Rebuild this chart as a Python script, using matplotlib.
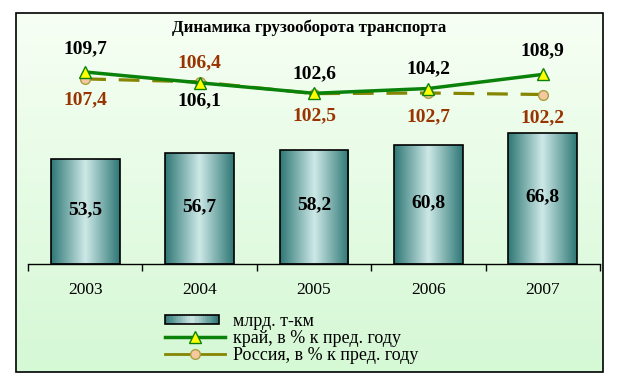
import numpy as np
import matplotlib.pyplot as plt
from matplotlib.patches import Rectangle, Patch
from matplotlib.lines import Line2D
from matplotlib.colors import LinearSegmentedColormap
from matplotlib.legend_handler import HandlerBase

# данные
years = ['2003', '2004', '2005', '2006', '2007']
volume = [53.5, 56.7, 58.2, 60.8, 66.8]            # млрд. т-км
krai = [109.7, 106.1, 102.6, 104.2, 108.9]          # край, % к пред. году
russia = [107.4, 106.4, 102.5, 102.7, 102.2]        # Россия, % к пред. году

serif = ['Liberation Serif', 'DejaVu Serif']
plt.rcParams['font.family'] = serif

W, H = 617, 384
fig = plt.figure(figsize=(W / 100, H / 100), dpi=100)

# фон рамки с градиентом
bg = fig.add_axes([0, 0, 1, 1], zorder=-10)
bg.set_xlim(0, W)
bg.set_ylim(H, 0)
bg.axis('off')
grad = np.linspace(0, 1, 256).reshape(-1, 1)
bg_cmap = LinearSegmentedColormap.from_list('bg', ['#f7fff4', '#d5f8d5'])
bg.imshow(grad, cmap=bg_cmap, extent=[16, 603, 372, 13], aspect='auto')
bg.add_patch(Rectangle((16, 13), 587, 359, fill=False, ec='black', lw=1.2))

# основная ось
ax = fig.add_axes([28 / W, 1 - 264 / H, 572 / W, 234 / H])
ax.patch.set_alpha(0)
x = np.arange(len(years))
bars = ax.bar(x, volume, width=0.6, color='none', edgecolor='black', lw=1.2, zorder=3)
ax.set_xlim(-0.5, len(years) - 0.5)
ax.set_ylim(0, 119.7)

bar_cmap = LinearSegmentedColormap.from_list(
    'bar', [(0, '#2e7775'), (0.5, '#cde9e7'), (1, '#2e7775')])
hgrad = np.linspace(0, 1, 256).reshape(1, -1)
for b, v in zip(bars, volume):
    x0, w = b.get_x(), b.get_width()
    im = ax.imshow(hgrad, cmap=bar_cmap, extent=[x0, x0 + w, 0, v],
                   aspect='auto', zorder=2)
    im.set_clip_path(b)
    ax.text(x0 + w / 2, v / 2 + 1, f'{v:.1f}'.replace('.', ','), ha='center',
            va='center', fontsize=14, fontweight='bold', zorder=4)

for s in ['top', 'right', 'left']:
    ax.spines[s].set_visible(False)
ax.spines['bottom'].set_linewidth(1)
ax.set_yticks([])
ax.set_xticks(np.arange(-0.5, len(years), 1))
ax.set_xticklabels([])
ax.tick_params(axis='x', length=5, width=1, direction='out')
for xi, yr in zip(x, years):
    ax.text(xi, -0.11, yr, transform=ax.get_xaxis_transform(), ha='center',
            va='center', fontsize=12.5)

# вторая ось для процентов
ax2 = ax.twinx()
ax2.set_ylim(45.7, 123.7)
ax2.axis('off')
ax2.plot(x, russia, color='#858500', lw=2.3, dashes=(6.5, 4), zorder=5,
         marker='o', ms=7, mfc='#f5c8a0', mec='#a8a040', mew=1)
ax2.plot(x, krai, color='#0a820a', lw=2.5, zorder=6,
         marker='^', ms=8, mfc='#ffff00', mec='#0a820a', mew=1)

krai_off = [17, -13, 14, 14, 17]
rus_off = [-15, 14, -16, -17, -17]
for xi, k, r, dk, dr in zip(x, krai, russia, krai_off, rus_off):
    ax2.annotate(f'{k:.1f}'.replace('.', ','), (xi, k), xytext=(0, dk),
                 textcoords='offset points', ha='center', va='center',
                 fontsize=14, fontweight='bold', color='black')
    ax2.annotate(f'{r:.1f}'.replace('.', ','), (xi, r), xytext=(0, dr),
                 textcoords='offset points', ha='center', va='center',
                 fontsize=14, fontweight='bold', color='#993300')

fig.text(309 / W, 1 - 28 / H, 'Динамика грузооборота транспорта', ha='center',
         va='center', fontsize=12.2, fontweight='bold')


# градиентный значок в легенде
class GradHandler(HandlerBase):
    def create_artists(self, legend, orig, xd, yd, width, height, fontsize, trans):
        w = width * 0.9
        hh = height * 0.75
        y0 = yd + (height - hh) / 2
        n = 24
        arts = []
        for i in range(n):
            arts.append(Rectangle((xd + w * i / n, y0), w / n + 0.3, hh,
                                  fc=bar_cmap((i + 0.5) / n), ec='none',
                                  transform=trans))
        arts.append(Rectangle((xd, y0), w, hh, fill=False, ec='black', lw=1.2,
                              transform=trans))
        return arts


handles = [
    Patch(facecolor='#8fc3c1', edgecolor='black'),
    Line2D([], [], color='#0a820a', lw=2.5, marker='^', ms=8,
           mfc='#ffff00', mec='#0a820a'),
    Line2D([], [], color='#858500', lw=2, marker='o', ms=7,
           mfc='#f5c8a0', mec='#a8a040'),
]
labels = ['млрд. т-км', 'край, в % к пред. году', 'Россия, в % к пред. году']
fig.legend(handles, labels, loc='upper left', bbox_to_anchor=(165 / W, 1 - 313 / H),
           frameon=False, fontsize=13, handlelength=3.3, labelspacing=0.0,
           handletextpad=0.45, borderaxespad=0, borderpad=0,
           handler_map={Patch: GradHandler()})

fig.savefig('out.png', dpi=100)
